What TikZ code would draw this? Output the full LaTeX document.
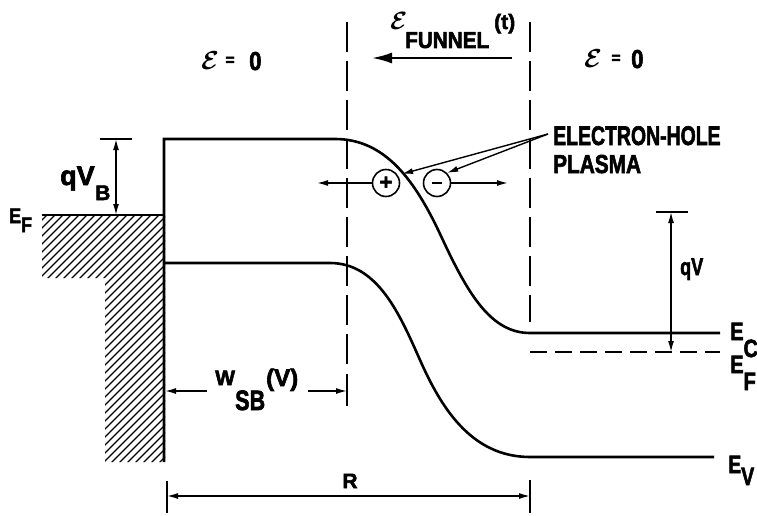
\RequirePackage{fix-cm}
\documentclass[tikz,border=0pt]{standalone}
\usepackage{fontspec}
\setmainfont{Liberation Sans}[BoldFeatures={FakeBold=2.5}]
\usetikzlibrary{arrows.meta}
\newcommand\myfs[1]{\fontsize{#1}{#1}\selectfont\bfseries}
\newcommand\hsq[2]{\scalebox{#1}[1]{#2}}
\newcommand\scE{\mbox{\boldmath$\mathcal{E}$}}
\begin{document}
\begin{tikzpicture}[x=1pt,y=-1pt,
  band/.style={line width=2.6pt},
  thinln/.style={line width=1.4pt},
  vdash/.style={line width=1.8pt, dash pattern=on 30pt off 9pt},
  tip/.style={-{Latex[length=11pt,width=6pt]}},
  bothtip/.style={{Latex[length=11pt,width=6pt]}-{Latex[length=11pt,width=6pt]}},
  lab/.style={inner sep=0pt, anchor=base west},
  charge/.style={circle, draw, line width=1.6pt, minimum size=27pt, inner sep=0pt, font=\myfs{22}},
]
\fill[white] (0,0) rectangle (757,516);
\useasboundingbox (0,0) rectangle (757,516);

% metal hatching
\begin{scope}
\clip (42,215) -- (165,215) -- (165,462) -- (105,462) -- (105,278) -- (42,278) -- cycle;
\foreach \i in {-224,-216,...,176} \draw[line width=1.4pt] (\i,470) -- ++(300,-300);
\end{scope}
\draw[band] (42,215) -- (165,215);

% conduction band
\draw[band] (164,462) -- (164,139) -- (335,139)
  .. controls (385,139) and (415,180) .. (441,236)
  .. controls (467,292) and (490,333) .. (530,333) -- (720,333);
% valence band
\draw[band] (164,263) -- (330,263)
  .. controls (378,263) and (400,315) .. (420,360)
  .. controls (440,405) and (470,457) .. (530,457) -- (714,457);

% semiconductor Fermi level
\draw[line width=2pt, dash pattern=on 17pt off 8pt] (530,352) -- (720,352);

% dashed boundaries
\draw[vdash] (347,22) -- (347,372);
\draw[thinln] (347,374) -- (347,406);
\draw[vdash] (530,22) -- (530,322);

% qV_B
\coordinate (qbt) at (116,139);
\coordinate (qbb) at (116,215);
\draw[thinln] (100,139) -- (132,139);
\draw[thinln,bothtip] (qbt) -- (qbb);

% qV
\coordinate (qvt) at (671,212);
\coordinate (qvb) at (671,352);
\draw[thinln] (656,212) -- (688,212);
\draw[thinln,bothtip] (qvt) -- (qvb);

% W_SB(V)
\coordinate (wl) at (165,391);
\coordinate (wr) at (347,391);
\draw[thinln,tip] (207,391) -- (wl);
\draw[thinln,tip] (308,391) -- (wr);

% R
\coordinate (rl) at (167,496);
\coordinate (rr) at (530,496);
\draw[thinln] (167,481) -- (167,513);
\draw[thinln] (530,480) -- (530,513);
\draw[thinln,bothtip] (rl) -- (rr);

% funnel field arrow
\coordinate (fa) at (512,58);
\coordinate (fb) at (372,58);
\draw[line width=2.2pt,-{Latex[length=20pt,width=11pt]}] (fa) -- (fb);

% charges
\node[charge] (hole) at (386,183) {+};
\node[charge] (elec) at (437,183) {\rule{10pt}{2.6pt}};
\coordinate (hl) at (317,183);
\coordinate (er) at (508,183);
\draw[thinln,tip] (hole.west) -- (hl);
\draw[thinln,tip] (elec.east) -- (er);

% leader lines
\coordinate (lp) at (548,134);
\coordinate (lh) at (402,174);
\draw[thinln,tip] (lp) -- (lh);
\draw[thinln,tip] (lp) -- (elec.north east);

% labels
\node[lab, font=\myfs{21}] (efl) at (9,223) {\hsq{0.85}{E\raisebox{-9pt}{F}}};
\node[lab, font=\myfs{27}] (qvbl) at (60,185) {qV};
\node[lab, font=\myfs{21}] (qvbs) at (95,200) {B};
\node[lab, font=\myfs{26}] (e0la) at (201,70) {\scE};
\node[inner sep=0pt, font=\myfs{16}] (e0lb) at (230,61) {=};
\node[lab, font=\myfs{26}] (e0lc) at (249,70) {\hsq{0.85}{0}};
\node[lab, font=\myfs{26}] (e0ra) at (584,68) {\scE};
\node[inner sep=0pt, font=\myfs{16}] (e0rb) at (616,59) {=};
\node[lab, font=\myfs{26}] (e0rc) at (631,68) {\hsq{0.85}{0}};
\node[lab, font=\myfs{25}] (fe) at (390,30) {\scE};
\node[lab, font=\myfs{23}] (ffun) at (405,48) {\hsq{0.9}{FUNNEL}};
\node[lab, font=\myfs{21}] (ft) at (494,29) {(t)};
\node[lab, font=\myfs{27}] (eh1) at (553,145) {\hsq{0.72}{ELECTRON-HOLE}};
\node[lab, font=\myfs{26}] (eh2) at (553,173) {\hsq{0.8}{PLASMA}};
\node[lab, font=\myfs{24}] (qvl) at (680,275) {\hsq{0.75}{qV}};
\node[lab, font=\myfs{25}] (ecl) at (730,340) {\hsq{0.8}{E\raisebox{-17pt}{C}}};
\node[lab, font=\myfs{25}] (efr) at (730,373) {\hsq{0.8}{E\raisebox{-17pt}{F}}};
\node[lab, font=\myfs{25}] (evl) at (728,473) {\hsq{0.78}{E\raisebox{-12pt}{V}}};
\node[lab, font=\myfs{21}] (wsbw) at (215,385) {W};
\node[lab, font=\myfs{28}] (wsbs) at (235,410) {\hsq{0.77}{SB}};
\node[lab, font=\myfs{24}] (wsbv) at (266,386) {(V)};
\node[inner sep=0pt, font=\myfs{21}] (rlab) at (350,481) {R};
\end{tikzpicture}
\end{document}
